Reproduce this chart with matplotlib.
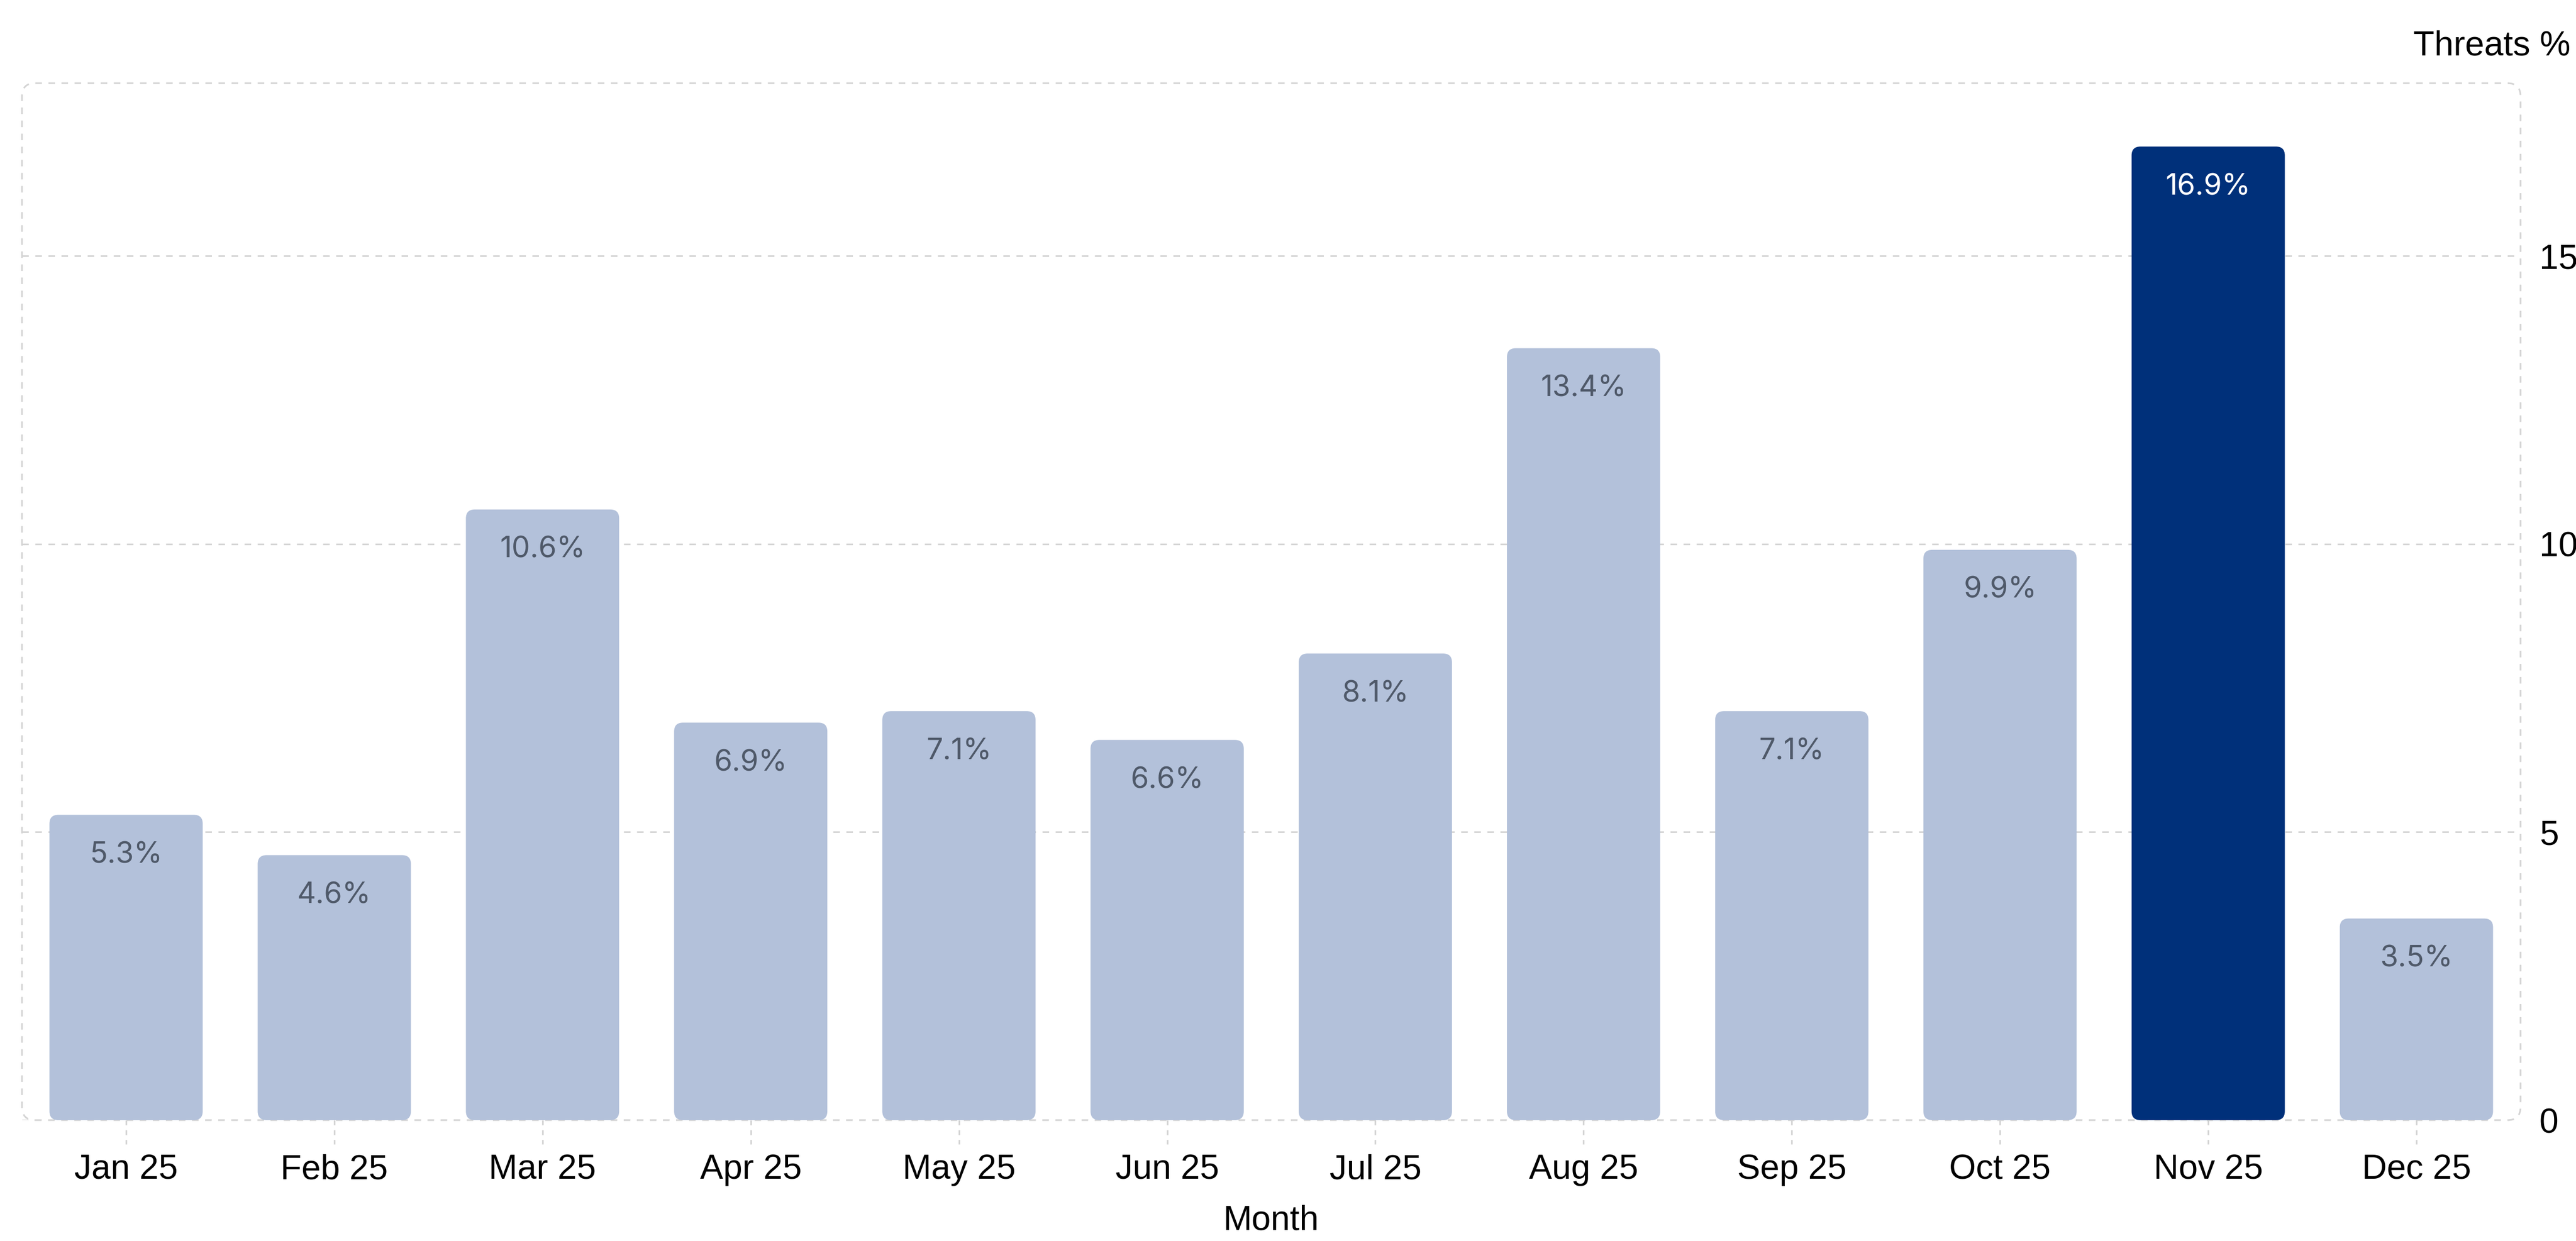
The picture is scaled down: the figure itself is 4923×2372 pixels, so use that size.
import matplotlib
matplotlib.use("Agg")
import matplotlib.pyplot as plt
from matplotlib.patches import FancyBboxPatch

months = ["Jan 25", "Feb 25", "Mar 25", "Apr 25", "May 25", "Jun 25",
          "Jul 25", "Aug 25", "Sep 25", "Oct 25", "Nov 25", "Dec 25"]
threats = [5.3, 4.6, 10.6, 6.9, 7.1, 6.6, 8.1, 13.4, 7.1, 9.9, 16.9, 3.5]
highlight = "Nov 25"
y_ticks = [0, 5, 10, 15]

light = "#b3c1da"
dark = "#00307a"
grid_col = "#d4d4d4"
dash = (0, (4, 4))

plt.rcParams["font.family"] = ["Liberation Sans", "DejaVu Sans"]

W, H, DPI = 4923, 2372, 300
fig = plt.figure(figsize=(W / DPI, H / DPI), dpi=DPI)
left, right, top, bottom = 42, 4817, 159, 2141
ax = fig.add_axes([left / W, 1 - bottom / H, (right - left) / W, (bottom - top) / H])

x = list(range(len(months)))
colors = [dark if m == highlight else light for m in months]
bars = ax.bar(x, threats, width=0.736, color=colors, zorder=3)

ax.set_xlim(-0.5, len(months) - 0.5)
ax.set_ylim(0, 18)

# swap the plain rectangles for rounded ones
ax_w, ax_h = right - left, bottom - top
px_x = ax_w / (ax.get_xlim()[1] - ax.get_xlim()[0])
px_y = ax_h / (ax.get_ylim()[1] - ax.get_ylim()[0])
for b in bars:
    rb = FancyBboxPatch((b.get_x(), b.get_y()), b.get_width(), b.get_height(),
                        boxstyle="round,pad=0,rounding_size=%f" % (17 / px_x),
                        mutation_aspect=px_x / px_y,
                        facecolor=b.get_facecolor(), edgecolor="none", zorder=3)
    ax.add_patch(rb)
    b.set_visible(False)

for i, (m, v) in enumerate(zip(months, threats)):
    ax.annotate(f"{v}%", (i, v), xytext=(0, -18.5), textcoords="offset points",
                ha="center", va="center", fontsize=13.4, family=["Inter", "DejaVu Sans"],
                color="white" if m == highlight else "#4f5969", zorder=4)

# rounded dashed frame around the plotting area
frame = FancyBboxPatch((0, 0), 1, 1, transform=ax.transAxes,
                       boxstyle="round,pad=0,rounding_size=%f" % (25 / ax_w),
                       mutation_aspect=ax_w / ax_h, facecolor="none",
                       edgecolor=grid_col, lw=0.75, linestyle=dash, clip_on=False, zorder=1)
ax.add_patch(frame)

ax.set_yticks(y_ticks)
ax.yaxis.grid(True, color=grid_col, lw=0.75, linestyle=dash, zorder=0)
ax.yaxis.tick_right()
ax.tick_params(axis="y", length=0, pad=8.6, labelsize=15.8, labelcolor="black")
for s in ax.spines.values():
    s.set_visible(False)

ax.set_xticks(x)
ax.set_xticklabels(months)
ax.tick_params(axis="x", length=0, pad=15.4, labelsize=15.8, labelcolor="black")
ax.vlines(x, 0, -46 / ax_h, transform=ax.get_xaxis_transform(), color=grid_col,
          lw=0.75, linestyle=(0, (3, 3)), clip_on=False)

ax.set_xlabel("Month", fontsize=15.8, labelpad=8.4)
fig.text(4912 / W, 1 - 88 / H, "Threats %", ha="right", va="center", fontsize=15.8)

fig.savefig("out.png", dpi=DPI, facecolor="white")
